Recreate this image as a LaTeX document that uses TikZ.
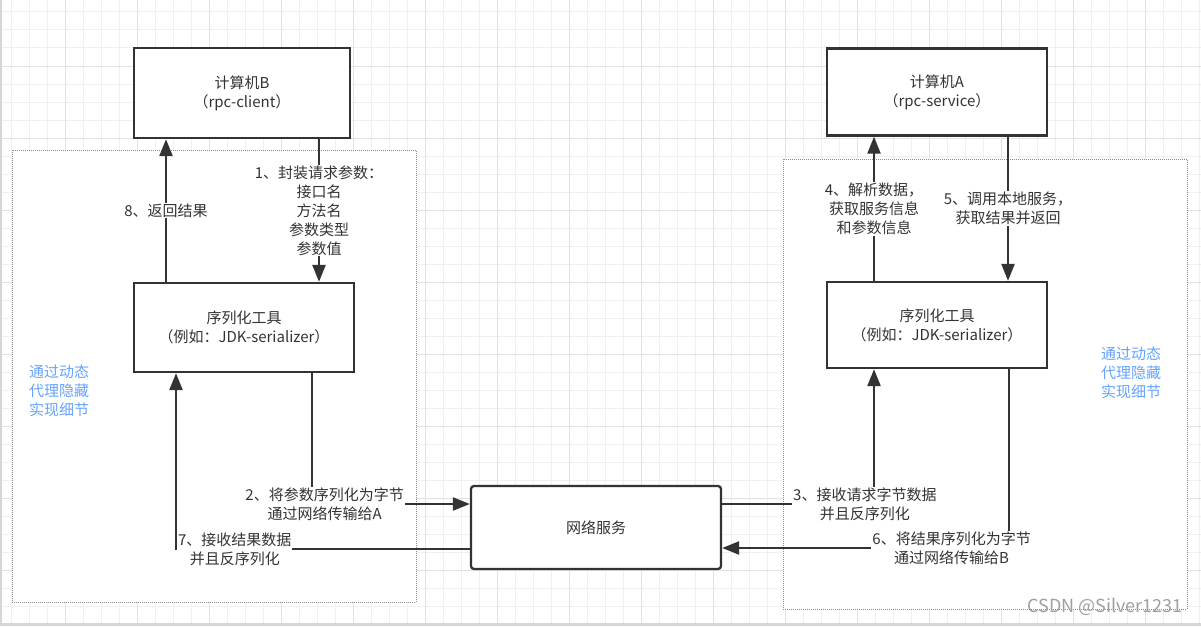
\documentclass[tikz,border=0pt]{standalone}
\usepackage{fontspec}
\setmainfont{Noto Sans CJK SC}
\usetikzlibrary{arrows.meta, calc}

\definecolor{linegray}{RGB}{51,51,51}
\definecolor{gridminor}{RGB}{240,240,240}
\definecolor{gridmajor}{RGB}{226,226,226}
\definecolor{edgegray}{RGB}{214,214,214}
\definecolor{zonegray}{RGB}{140,140,140}
\definecolor{notetext}{RGB}{102,163,255}

\begin{document}
\begin{tikzpicture}[
  x=1pt, y=-1pt,
  every node/.style = {font=\fontsize{15}{19}\selectfont, text=linegray},
  block/.style = {draw=linegray, line width=2.3pt, fill=white, align=center},
  netblock/.style = {block, rounded corners=3pt},
  zone/.style = {draw=zonegray, line width=1pt, dash pattern=on 1pt off 1pt, fill=white},
  arrow/.style = {draw=linegray, line width=2.3pt, -{Triangle[length=17pt, width=13pt]}},
  lbl/.style = {fill=white, align=center, inner sep=1pt},
  note/.style = {align=center, text=notetext}
]
  \useasboundingbox (0,0) rectangle (1201,626);

  % Background grid
  \fill[white] (0,0) rectangle (1201,626);
  \begin{scope}[shift={(11,12)}]
    \draw[gridminor, line width=1pt, step=18pt] (-11,-12) grid (1190,612);
  \end{scope}
  \begin{scope}[shift={(65,66)}]
    \draw[gridmajor, line width=1pt, step=72pt] (-65,-66) grid (1136,558);
  \end{scope}
  \fill[edgegray] (0,0) rectangle (2,626);
  \fill[edgegray] (0,623) rectangle (1201,626);

  % Proxy areas
  \node[zone, minimum width=404pt, minimum height=452pt] (zoneB) at (214,376) {};
  \node[zone, minimum width=404pt, minimum height=450pt] (zoneA) at (985,384) {};

  % Computers
  \node[block, minimum width=216pt, minimum height=90pt] (compB) at (242,93) {计算机B\\（rpc-client）};
  \node[block, minimum width=220pt, minimum height=87pt] (compA) at (937,92) {计算机A\\（rpc-service）};

  % Serializers
  \node[block, minimum width=220pt, minimum height=89pt] (serB) at (244,327.5) {序列化工具\\（例如：JDK-serializer）};
  \node[block, minimum width=220pt, minimum height=86pt] (serA) at (937,325) {序列化工具\\（例如：JDK-serializer）};

  % Network
  \node[netblock, minimum width=250pt, minimum height=83pt] (net) at (596,527.5) {网络服务};

  % Notes
  \node[note] (hideB) at (59,391) {通过动态\\代理隐藏\\实现细节};
  \node[note] (hideA) at (1131,373) {通过动态\\代理隐藏\\实现细节};

  % Client side
  \draw[arrow] ([xshift=77pt]compB.south) -- ([xshift=75pt]serB.north)
    node[lbl, midway] {1、封装请求参数：\\接口名\\方法名\\参数类型\\参数值};
  \draw[arrow] ([xshift=68pt]serB.south) |- ([yshift=23.5pt]net.west)
    node[lbl, pos=0.54] {2、将参数序列化为字节\\通过网络传输给A};
  \draw[arrow] ([yshift=-21.5pt]net.west) -| ([xshift=-68pt]serB.south)
    node[lbl, pos=0.4] {7、接收结果数据\\并且反序列化};
  \draw[arrow] ([xshift=-78pt]serB.north) -- ([xshift=-76pt]compB.south)
    node[lbl, midway] {8、返回结果};

  % Service side
  \draw[arrow] ([yshift=23.5pt]net.east) -| ([xshift=-63pt]serA.south)
    node[lbl, pos=0.47] {3、接收请求字节数据\\并且反序列化};
  \draw[arrow] ([xshift=-63pt]serA.north) -- ([xshift=-63pt]compA.south)
    node[lbl, midway] {4、解析数据，\\获取服务信息\\和参数信息};
  \draw[arrow] ([xshift=71pt]compA.south) -- ([xshift=71pt]serA.north)
    node[lbl, midway] {5、调用本地服务，\\获取结果并返回};
  \draw[arrow] ([xshift=72pt]serA.south) |- ([yshift=-20.5pt]net.east)
    node[lbl, pos=0.6] {6、将结果序列化为字节\\通过网络传输给B};

  % Watermark
  \node[font=\fontsize{18}{18}\selectfont, text=gray!75] (mark) at (1105,607) {CSDN @Silver1231};
\end{tikzpicture}
\end{document}
